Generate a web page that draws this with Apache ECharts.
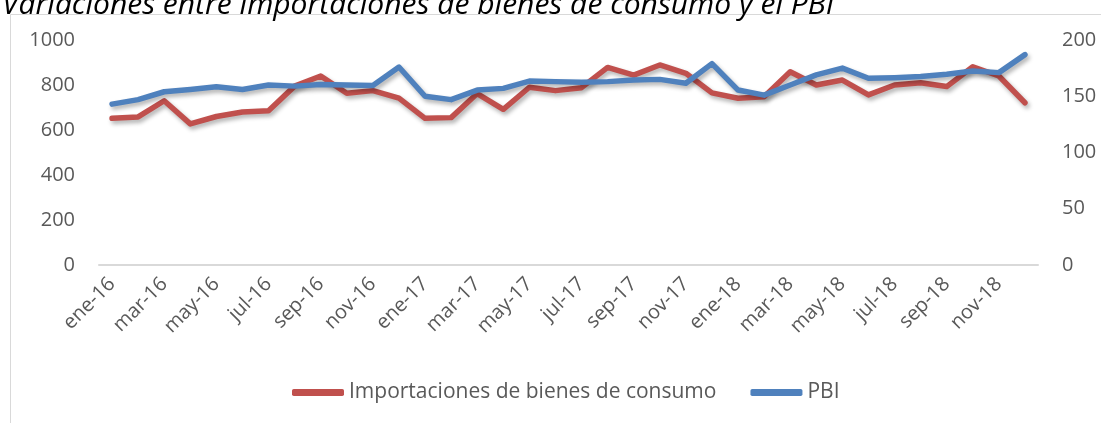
<!DOCTYPE html>
<html>
<head>
<meta charset="utf-8">
<script src="https://cdn.jsdelivr.net/npm/echarts@6/dist/echarts.min.js"></script>
<style>
  html, body { margin: 0; padding: 0; background: #fff; }
  #chart { width: 1101px; height: 423px; }
</style>
</head>
<body>
<div id="chart"></div>
<script>
// meses (ene-16 .. dic-18)
const meses = [
    'ene-16', 'feb-16', 'mar-16', 'abr-16', 'may-16', 'jun-16', 'jul-16', 'ago-16', 'sep-16', 'oct-16', 'nov-16', 'dic-16',
    'ene-17', 'feb-17', 'mar-17', 'abr-17', 'may-17', 'jun-17', 'jul-17', 'ago-17', 'sep-17', 'oct-17', 'nov-17', 'dic-17',
    'ene-18', 'feb-18', 'mar-18', 'abr-18', 'may-18', 'jun-18', 'jul-18', 'ago-18', 'sep-18', 'oct-18', 'nov-18', 'dic-18'
];
// eje izquierdo
const importaciones = [
    652, 658, 730, 627, 660, 680, 686, 795, 840, 763, 775, 742,
    652, 655, 762, 692, 790, 775, 788, 878, 844, 889, 852, 765,
    741, 748, 859, 800, 822, 756, 800, 810, 793, 881, 840, 721
];
// eje derecho
const pbi = [
    143, 147, 154, 156, 158.5, 156, 160, 159, 160.5, 160, 159.5, 176,
    150, 147, 155.5, 157, 163.5, 163, 162.5, 163, 164.5, 165, 161.5, 179,
    155.5, 151, 160, 169, 175, 166, 166.5, 167.5, 169.5, 172.5, 171, 187
];
const titulo = 'Variaciones entre importaciones de bienes de consumo y el PBI';
const nombres = ['Importaciones de bienes de consumo', 'PBI'];

const myChart = echarts.init(document.getElementById('chart'));
const fuente = '"Open Sans", "Liberation Sans", sans-serif';
const gris = '#595959';

const sombra = {
    shadowColor: 'rgba(0,0,0,0.3)',
    shadowBlur: 4,
    shadowOffsetX: 2,
    shadowOffsetY: 3
};

// sin separador de miles
const sinComa = function (v) {
    return String(v);
};

const option = {
    animation: false,
    textStyle: { fontFamily: fuente },
    title: {
        text: titulo,
        left: -3,
        top: -15,
        textStyle: {
            fontFamily: fuente,
            fontStyle: 'italic',
            fontWeight: 'normal',
            fontSize: 30,
            color: '#000'
        }
    },
    graphic: [
        {
            type: 'rect',
            shape: { x: 10.5, y: 14.5, width: 1200, height: 600 },
            style: { fill: 'none', stroke: '#d9d9d9', lineWidth: 1 },
            silent: true
        }
    ],
    legend: {
        bottom: 15,
        left: 287,
        itemWidth: 52,
        itemHeight: 7,
        itemGap: 34,
        icon: 'roundRect',
        textStyle: { fontSize: 21, color: gris, fontFamily: fuente },
        data: nombres
    },
    grid: {
        left: 99,
        right: 63,
        top: 40,
        bottom: 158
    },
    xAxis: {
        type: 'category',
        data: meses,
        axisLine: { lineStyle: { color: '#d9d9d9', width: 2 } },
        axisTick: { show: false },
        axisLabel: {
            interval: 1,
            rotate: 45,
            margin: 16,
            fontSize: 20,
            color: gris
        }
    },
    yAxis: [
        {
            type: 'value',
            min: 0,
            max: 1000,
            interval: 200,
            splitLine: { show: false },
            axisLine: { show: false },
            axisTick: { show: false },
            axisLabel: { fontSize: 20, color: gris, margin: 24, formatter: sinComa }
        },
        {
            type: 'value',
            min: 0,
            max: 200,
            interval: 50,
            position: 'right',
            splitLine: { show: false },
            axisLine: { show: false },
            axisTick: { show: false },
            axisLabel: { fontSize: 20, color: gris, margin: 24, formatter: sinComa }
        }
    ],
    series: [
        {
            name: nombres[0],
            type: 'line',
            yAxisIndex: 0,
            data: importaciones,
            symbol: 'none',
            itemStyle: { color: '#c0504d' },
            lineStyle: Object.assign({ color: '#c0504d', width: 5.5, cap: 'round', join: 'round' }, sombra)
        },
        {
            name: nombres[1],
            type: 'line',
            yAxisIndex: 1,
            data: pbi,
            symbol: 'none',
            itemStyle: { color: '#4f81bd' },
            lineStyle: Object.assign({ color: '#4f81bd', width: 5.5, cap: 'round', join: 'round' }, sombra)
        }
    ]
};
myChart.setOption(option);
</script>
</body>
</html>
